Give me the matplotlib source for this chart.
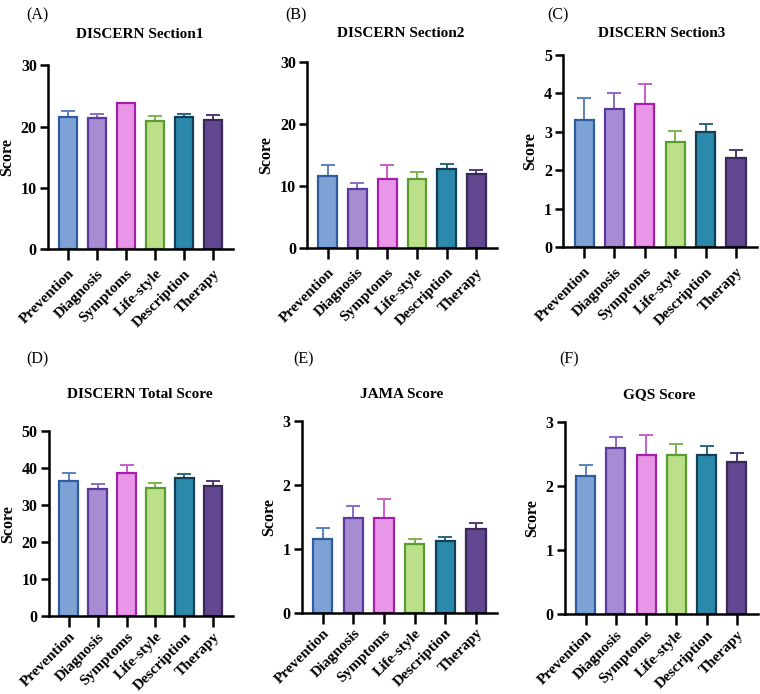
import matplotlib.pyplot as plt
import numpy as np

plt.rcParams['font.family'] = ['Liberation Serif', 'DejaVu Serif']

categories = ['Prevention', 'Diagnosis', 'Symptoms', 'Life-style', 'Description', 'Therapy']

# means and upper error-bar ends for each panel
sec1_mean = [21.6, 21.4, 23.9, 20.9, 21.5, 21.0]
sec1_top = [22.6, 22.0, 23.9, 21.7, 22.1, 21.9]
sec2_mean = [11.5, 9.4, 11.1, 11.1, 12.7, 11.9]
sec2_top = [13.3, 10.5, 13.3, 12.2, 13.5, 12.5]
sec3_mean = [3.31, 3.58, 3.73, 2.73, 2.98, 2.31]
sec3_top = [3.88, 4.0, 4.23, 3.03, 3.2, 2.53]
total_mean = [36.4, 34.3, 38.7, 34.7, 37.2, 35.2]
total_top = [38.7, 35.7, 40.8, 36.0, 38.4, 36.6]
jama_mean = [1.16, 1.49, 1.49, 1.07, 1.125, 1.31]
jama_top = [1.33, 1.67, 1.79, 1.16, 1.19, 1.41]
gqs_mean = [2.15, 2.59, 2.49, 2.49, 2.48, 2.38]
gqs_top = [2.33, 2.76, 2.79, 2.65, 2.62, 2.51]

fills = ['#7ea2d6', '#a78bd3', '#ea96e8', '#bce08a', '#2b8aab', '#624890']
edges = ['#2f5c9f', '#5b3aa0', '#a420aa', '#5b9c2f', '#123f56', '#3a2858']
errc = ['#5b82c0', '#8a6cc4', '#c660c8', '#7db44e', '#2a6580', '#4e3a74']

panels = [
    ('(A)', 'DISCERN Section1', sec1_mean, sec1_top, 30, [0, 10, 20, 30],
     [0.063, 0.641, 0.244, 0.265], (0.035, 0.990), (0.184, 0.950), 5),
    ('(B)', 'DISCERN Section2', sec2_mean, sec2_top, 30, [0, 10, 20, 30],
     [0.404, 0.643, 0.250, 0.268], (0.375, 0.990), (0.527, 0.952), 5),
    ('(C)', 'DISCERN Section3', sec3_mean, sec3_top, 5, [0, 1, 2, 3, 4, 5],
     [0.741, 0.644, 0.255, 0.277], (0.720, 0.990), (0.871, 0.952), 5),
    ('(D)', 'DISCERN Total Score', total_mean, total_top, 50, [0, 10, 20, 30, 40, 50],
     [0.064, 0.112, 0.243, 0.267], (0.035, 0.494), (0.184, 0.431), 2),
    ('(E)', 'JAMA Score', jama_mean, jama_top, 3, [0, 1, 2, 3],
     [0.397, 0.117, 0.257, 0.276], (0.386, 0.494), (0.529, 0.431), 2),
    ('(F)', 'GQS Score', gqs_mean, gqs_top, 3, [0, 1, 2, 3],
     [0.743, 0.115, 0.254, 0.277], (0.736, 0.494), (0.867, 0.431), 2),
]

fig = plt.figure(figsize=(7.6, 6.94), dpi=100)
x = np.arange(len(categories))

for lab, title, mean, top, ymax, yt, pos, labpos, titpos, xpad in panels:
    ax = fig.add_axes(pos)
    mean = np.array(mean)
    top = np.array(top)
    ax.bar(x, mean, width=0.63, color=fills, edgecolor=edges, linewidth=1.6, zorder=2)
    for i in range(len(x)):
        if top[i] > mean[i]:
            ax.errorbar(x[i], mean[i], yerr=[[0], [top[i] - mean[i]]], fmt='none',
                        ecolor=errc[i], elinewidth=1.4, capsize=5, capthick=1.4, zorder=1)
    ax.set_xlim(-0.69, len(x) - 0.31)
    ax.set_ylim(0, ymax)
    ax.set_yticks(yt)
    ax.set_xticks(x)
    ax.set_xticklabels(categories, rotation=45, ha='right', rotation_mode='anchor',
                       fontsize=11, fontweight='bold')
    for t in ax.get_yticklabels():
        t.set_fontsize(11.5)
        t.set_fontweight('bold')
    ax.set_ylabel('Score', fontsize=11.5, fontweight='bold')
    ax.spines['top'].set_visible(False)
    ax.spines['right'].set_visible(False)
    ax.spines['left'].set_linewidth(1.8)
    ax.spines['bottom'].set_linewidth(1.8)
    ax.tick_params(axis='y', width=1.8, length=6, direction='out', pad=2)
    ax.tick_params(axis='x', width=1.8, length=8, direction='out', pad=xpad)
    fig.text(labpos[0], labpos[1], lab, fontsize=11.5, va='top', ha='left')
    fig.text(titpos[0], titpos[1], title, fontsize=11, fontweight='bold', ha='center', va='center')

fig.savefig('out.png', dpi=100)
